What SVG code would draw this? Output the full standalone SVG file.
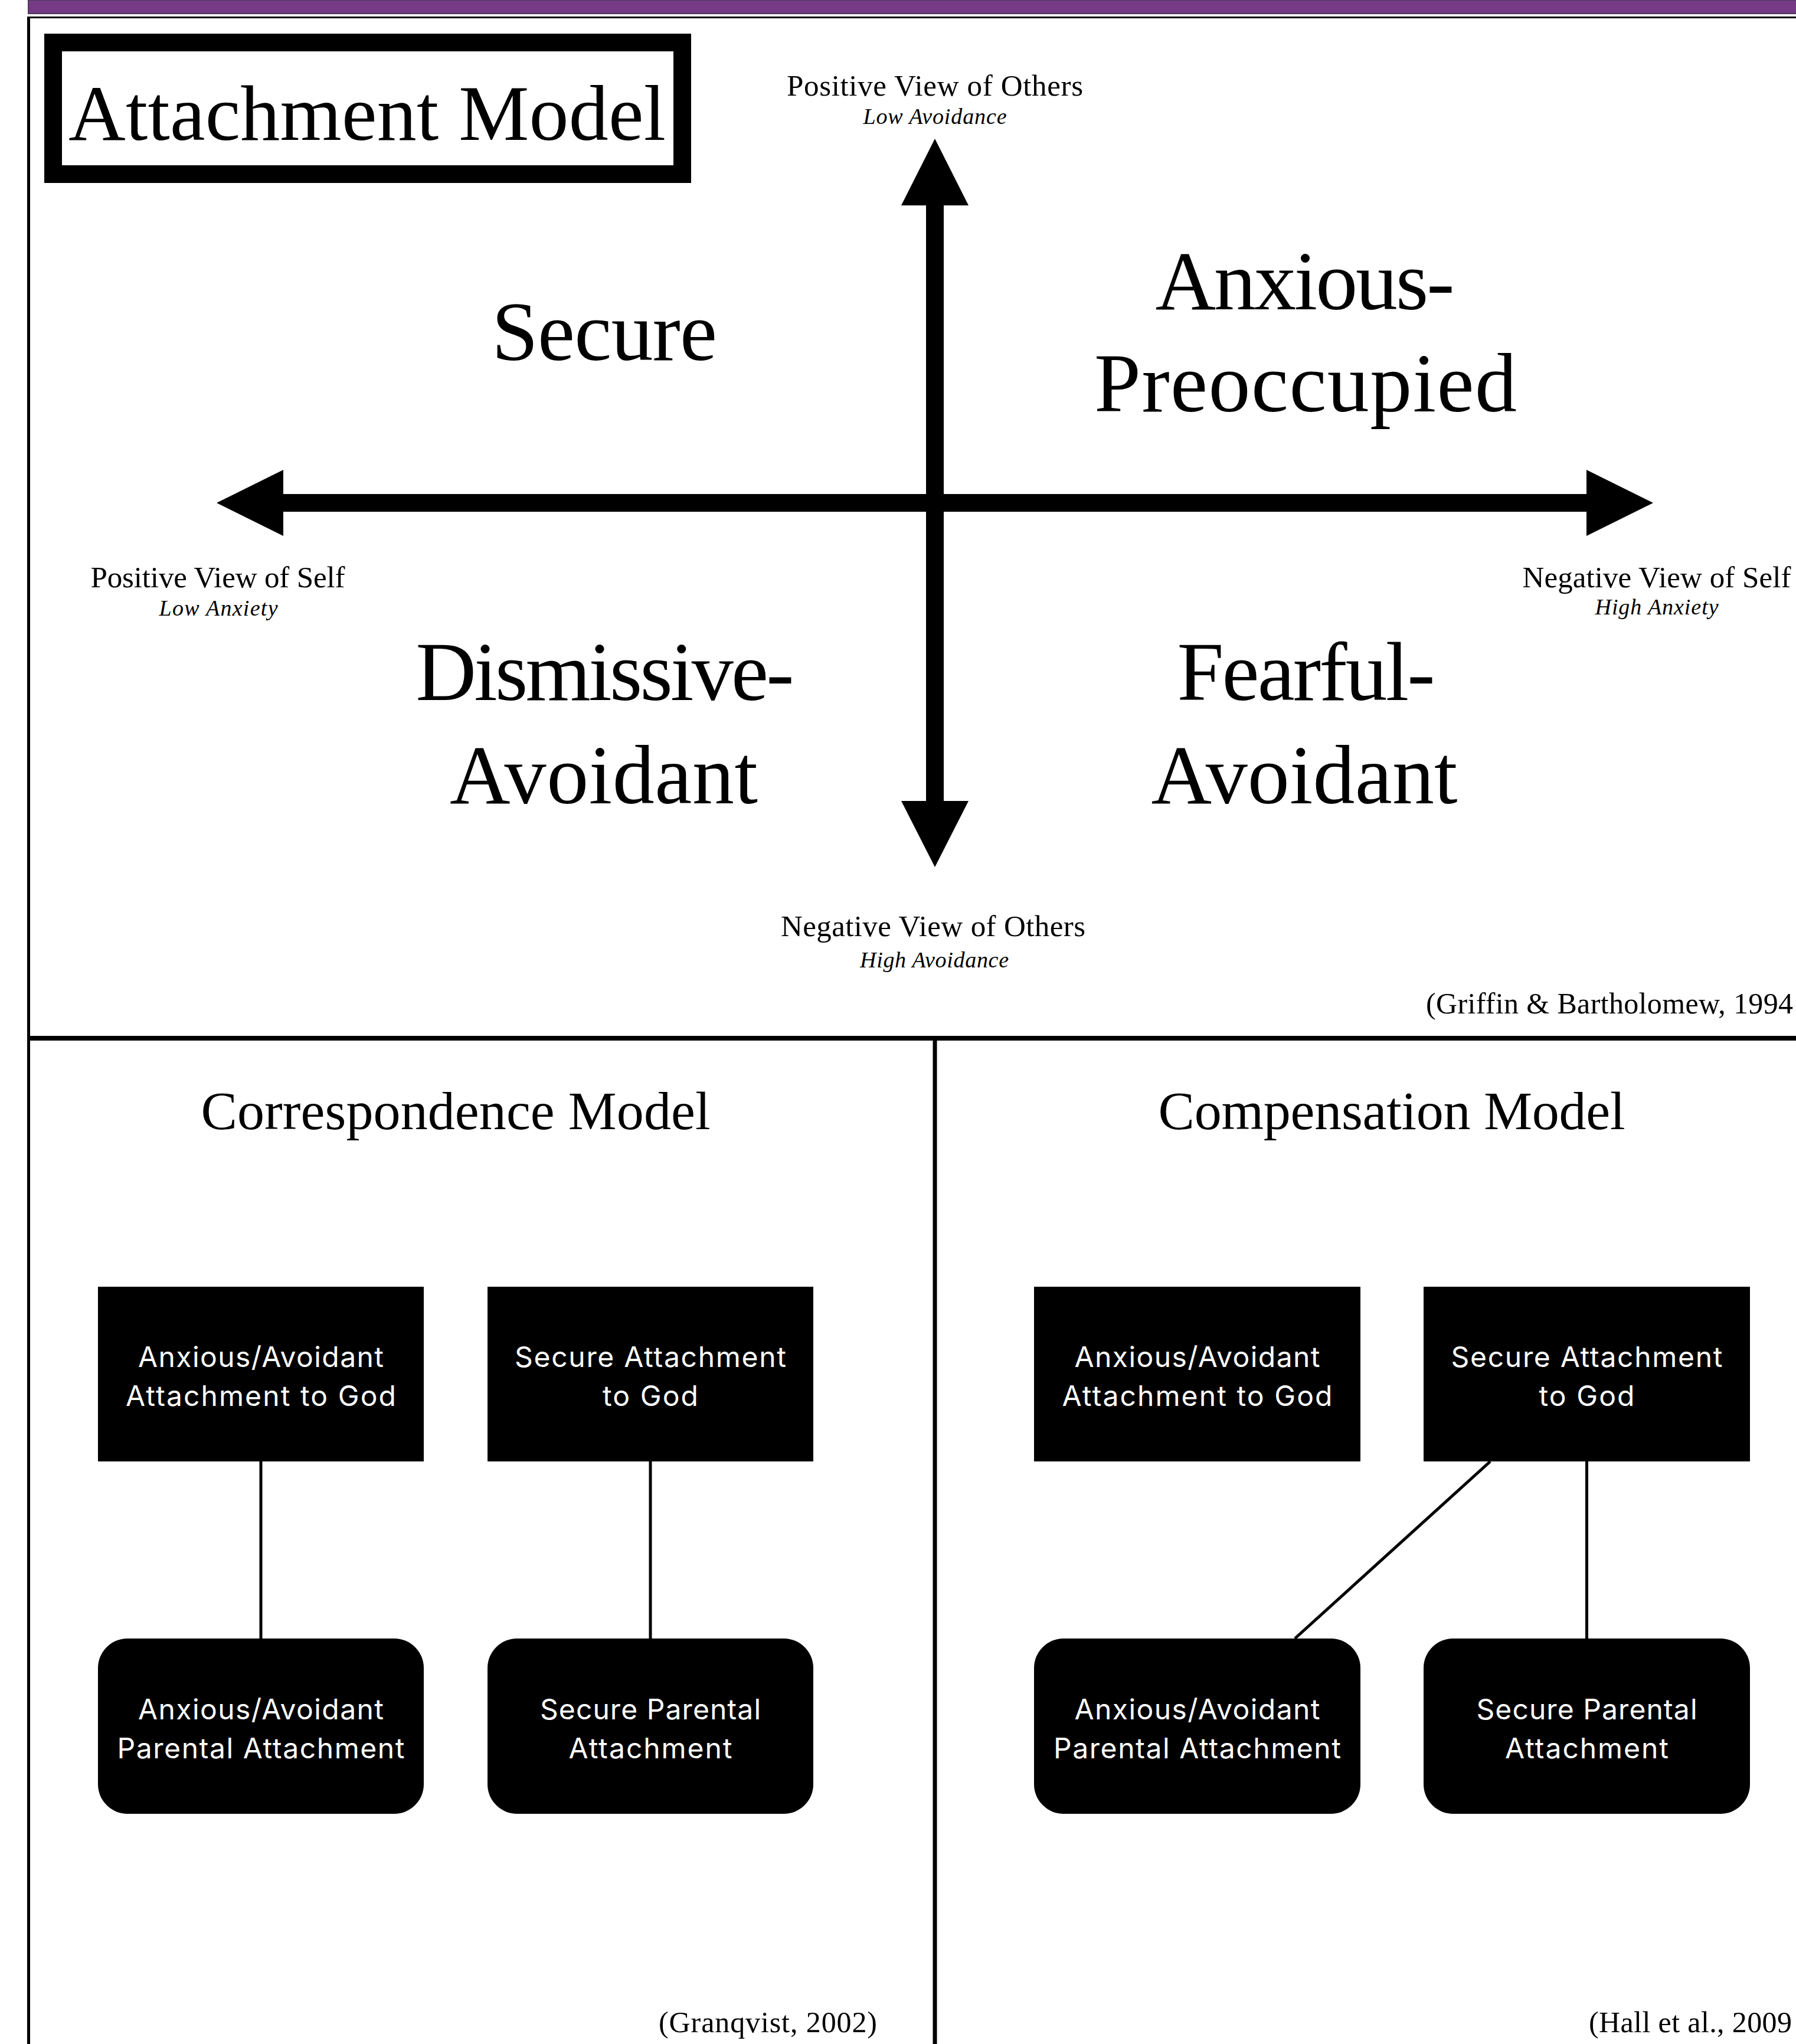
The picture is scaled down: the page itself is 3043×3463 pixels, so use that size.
<svg xmlns="http://www.w3.org/2000/svg" width="3043" height="3463" viewBox="0 0 3043 3463">
<style>
.serif{font-family:"Liberation Serif","Times New Roman",serif;fill:#000}
.it{font-style:italic}
.lbl{font-size:51px}
.sub{font-size:38px}
.quad{font-size:142px}
.sect{font-size:92px}
.cite{font-size:50px}
.nt{font-family:Inter,"Liberation Sans",Arial,sans-serif;font-size:48px;fill:#fff;text-anchor:middle}
.mid{text-anchor:middle}
.box{fill:#000}
.conn{stroke:#000;stroke-width:5;fill:none}
.frame{stroke:#000;fill:none}
</style>
<rect width="3043" height="3463" fill="#fff"/>
<!-- header bar and frame -->
<g id="frame">
<rect x="48" y="0" width="2997" height="23" fill="#763a87" stroke="#4b3a57" stroke-width="2"/>
<line class="frame" x1="46" y1="29.5" x2="3043" y2="29.5" stroke-width="3"/>
<line class="frame" x1="48.5" y1="28" x2="48.5" y2="3463" stroke-width="5"/>
<line class="frame" x1="46" y1="1759" x2="3043" y2="1759" stroke-width="8"/>
<line class="frame" x1="1584" y1="1759" x2="1584" y2="3463" stroke-width="7"/>
</g>
<!-- title -->
<g id="title">
<rect x="90" y="72" width="1066" height="223" fill="#fff" stroke="#000" stroke-width="30"/>
<text class="serif mid" x="622" y="237" font-size="134" textLength="1012">Attachment Model</text>
</g>
<!-- axes -->
<g id="axes" fill="#000">
<rect x="478" y="837" width="2212" height="30"/>
<polygon points="367,852 480,796 480,908"/>
<polygon points="2801,852 2688,796 2688,908"/>
<rect x="1569" y="346" width="30" height="1013"/>
<polygon points="1584,235 1527,348 1641,348"/>
<polygon points="1584,1469 1527,1357 1641,1357"/>
</g>
<g id="axis-labels">
<text class="serif lbl mid" x="1584" y="162" textLength="502">Positive View of Others</text>
<text class="serif sub it mid" x="1584" y="210" textLength="243">Low Avoidance</text>
<text class="serif lbl mid" x="369" y="995" textLength="431">Positive View of Self</text>
<text class="serif sub it mid" x="370" y="1043" textLength="201">Low Anxiety</text>
<text class="serif lbl mid" x="2807" y="995" textLength="455">Negative View of Self</text>
<text class="serif sub it mid" x="2807" y="1041" textLength="209">High Anxiety</text>
<text class="serif lbl mid" x="1581" y="1586" textLength="516">Negative View of Others</text>
<text class="serif sub it mid" x="1583" y="1639" textLength="252">High Avoidance</text>
</g>
<g id="quadrants">
<text class="serif quad mid" x="1024" y="610" textLength="382">Secure</text>
<text class="serif quad mid" x="2211" y="524" textLength="507">Anxious-</text>
<text class="serif quad mid" x="2212" y="697" textLength="716">Preoccupied</text>
<text class="serif quad mid" x="1025" y="1186" textLength="641">Dismissive-</text>
<text class="serif quad mid" x="1023" y="1361" textLength="522">Avoidant</text>
<text class="serif quad mid" x="2213" y="1186" textLength="437">Fearful-</text>
<text class="serif quad mid" x="2210" y="1361" textLength="519">Avoidant</text>
</g>
<text class="serif cite" x="2416" y="1717" textLength="622">(Griffin &amp; Bartholomew, 1994</text>
<!-- section titles -->
<text class="serif sect mid" x="772" y="1913" textLength="863">Correspondence Model</text>
<text class="serif sect mid" x="2358" y="1913" textLength="791">Compensation Model</text>
<!-- connectors -->
<g id="connectors">
<line class="conn" x1="442" y1="2476" x2="442" y2="2776"/>
<line class="conn" x1="1102" y1="2476" x2="1102" y2="2776"/>
<line class="conn" x1="2525" y1="2476" x2="2194" y2="2776"/>
<line class="conn" x1="2688.5" y1="2476" x2="2688.5" y2="2776"/>
</g>
<!-- correspondence nodes -->
<g id="corr-anx-god">
<rect class="box" x="166" y="2180" width="552" height="296"/>
<text class="nt" x="442" y="2316" textLength="416">Anxious/Avoidant</text>
<text class="nt" x="442" y="2382" textLength="458">Attachment to God</text>
</g>
<g id="corr-sec-god">
<rect class="box" x="826" y="2180" width="552" height="296"/>
<text class="nt" x="1102" y="2316" textLength="460">Secure Attachment</text>
<text class="nt" x="1102" y="2382" textLength="162">to God</text>
</g>
<g id="corr-anx-par">
<rect class="box" x="166" y="2776" width="552" height="297" rx="50" ry="50"/>
<text class="nt" x="442" y="2913" textLength="416">Anxious/Avoidant</text>
<text class="nt" x="442" y="2979" textLength="487">Parental Attachment</text>
</g>
<g id="corr-sec-par">
<rect class="box" x="826" y="2776" width="552" height="297" rx="50" ry="50"/>
<text class="nt" x="1102" y="2913" textLength="374">Secure Parental</text>
<text class="nt" x="1102" y="2979" textLength="277">Attachment</text>
</g>
<!-- compensation nodes -->
<g id="comp-anx-god">
<rect class="box" x="1752" y="2180" width="553" height="296"/>
<text class="nt" x="2028.5" y="2316" textLength="416">Anxious/Avoidant</text>
<text class="nt" x="2028.5" y="2382" textLength="458">Attachment to God</text>
</g>
<g id="comp-sec-god">
<rect class="box" x="2412" y="2180" width="553" height="296"/>
<text class="nt" x="2688.5" y="2316" textLength="460">Secure Attachment</text>
<text class="nt" x="2688.5" y="2382" textLength="162">to God</text>
</g>
<g id="comp-anx-par">
<rect class="box" x="1752" y="2776" width="553" height="297" rx="50" ry="50"/>
<text class="nt" x="2028.5" y="2913" textLength="416">Anxious/Avoidant</text>
<text class="nt" x="2028.5" y="2979" textLength="487">Parental Attachment</text>
</g>
<g id="comp-sec-par">
<rect class="box" x="2412" y="2776" width="553" height="297" rx="50" ry="50"/>
<text class="nt" x="2688.5" y="2913" textLength="374">Secure Parental</text>
<text class="nt" x="2688.5" y="2979" textLength="277">Attachment</text>
</g>
<!-- citations -->
<text class="serif cite" x="1116" y="3443" textLength="370">(Granqvist, 2002)</text>
<text class="serif cite" x="2692" y="3443" textLength="344">(Hall et al., 2009</text>
</svg>
